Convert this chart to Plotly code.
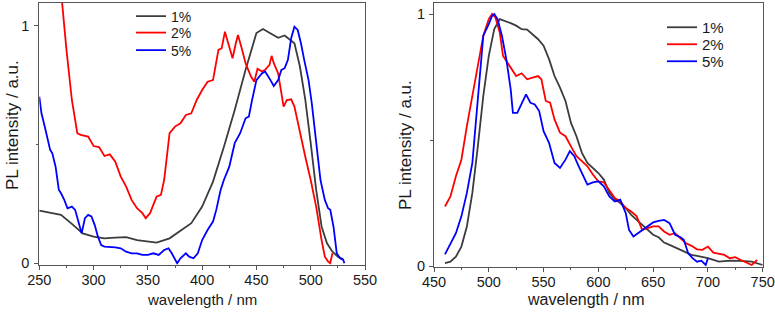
import plotly.graph_objects as go

# ---------------- Left panel data ----------------
L_black_x = [250,260,270,280,290,300,310,320,330,340,350,358,370,380,390,400,410,420,430,440,450,456,460,465,470,476,480,485,490,495,500,505,510,515,520,525,530]
L_black_y = [0.222,0.213,0.204,0.166,0.126,0.112,0.105,0.108,0.110,0.098,0.093,0.087,0.105,0.136,0.169,0.239,0.344,0.490,0.646,0.815,0.970,0.987,0.976,0.965,0.950,0.960,0.944,0.927,0.830,0.690,0.506,0.310,0.155,0.084,0.049,0.028,0.017]

L_red_x = [268,271,275,280,285,288,295,300,305,310,315,320,325,330,335,340,345,348,352,358,362,365,370,375,380,385,390,395,400,405,410,412,415,418,421,424,428,431,433,436,440,445,448,451,455,458,462,464,466,470,472,475,478,482,485,490,495,500,505,510,513,516,518,520]
L_red_y = [1.200,1.098,0.900,0.688,0.548,0.541,0.534,0.494,0.490,0.452,0.459,0.428,0.365,0.323,0.267,0.232,0.211,0.190,0.211,0.281,0.288,0.351,0.548,0.576,0.590,0.625,0.632,0.688,0.730,0.765,0.772,0.829,0.899,0.906,0.976,0.927,0.864,0.927,0.962,0.913,0.843,0.787,0.765,0.820,0.808,0.815,0.836,0.874,0.843,0.800,0.744,0.660,0.688,0.691,0.660,0.548,0.449,0.351,0.239,0.098,0.028,0.007,0.000,0.042]

L_blue_x = [250,252,255,258,260,262,265,268,270,273,276,280,283,286,289,292,295,298,301,304,307,310,315,320,325,330,335,340,345,350,355,360,365,369,372,375,377,380,385,388,392,396,400,405,410,413,417,420,425,430,435,440,443,446,450,455,458,462,466,470,473,476,479,482,485,488,491,494,498,501,505,509,513,516,518,521,524,527,530,531]
L_blue_y = [0.702,0.632,0.576,0.520,0.478,0.463,0.407,0.309,0.295,0.267,0.232,0.239,0.225,0.176,0.126,0.190,0.204,0.197,0.162,0.112,0.077,0.070,0.070,0.067,0.063,0.049,0.042,0.042,0.035,0.035,0.042,0.035,0.056,0.063,0.042,0.014,0.000,0.021,0.042,0.028,0.021,0.042,0.098,0.140,0.176,0.225,0.309,0.351,0.407,0.506,0.548,0.611,0.618,0.688,0.772,0.800,0.808,0.779,0.747,0.772,0.815,0.822,0.857,0.948,0.997,0.983,0.927,0.857,0.772,0.674,0.520,0.351,0.267,0.232,0.225,0.154,0.042,0.021,0.014,0.000]

# ---------------- Right panel data ----------------
R_black_x = [460,465,470,475,480,485,490,495,500,505,510,515,520,525,530,535,540,545,550,555,560,565,570,575,580,585,590,595,600,605,610,615,620,625,630,635,640,645,650,655,660,665,670,675,680,685,690,700,710,720,730,740,750]
R_black_y = [0.011,0.017,0.037,0.077,0.157,0.290,0.475,0.675,0.834,0.940,0.980,0.973,0.964,0.954,0.940,0.938,0.920,0.900,0.874,0.821,0.754,0.708,0.655,0.568,0.515,0.449,0.409,0.389,0.369,0.343,0.290,0.266,0.250,0.230,0.203,0.183,0.163,0.143,0.124,0.114,0.093,0.084,0.074,0.064,0.053,0.044,0.040,0.031,0.017,0.021,0.020,0.017,0.004]

R_red_x = [460,465,470,475,480,485,490,495,500,503,506,510,513,516,520,525,530,535,540,545,548,552,556,560,565,570,575,580,585,590,595,600,605,610,615,620,625,630,635,640,645,650,655,660,665,670,675,680,685,690,695,700,705,710,715,720,725,730,735,740,745]
R_red_y = [0.236,0.276,0.356,0.422,0.555,0.675,0.807,0.914,0.980,1.000,0.987,0.927,0.834,0.814,0.788,0.754,0.765,0.741,0.748,0.754,0.741,0.655,0.648,0.582,0.529,0.515,0.475,0.436,0.416,0.396,0.363,0.336,0.332,0.303,0.270,0.256,0.230,0.216,0.197,0.143,0.150,0.157,0.157,0.137,0.124,0.130,0.110,0.090,0.080,0.066,0.064,0.077,0.053,0.050,0.044,0.031,0.035,0.024,0.015,0.004,0.024]

R_blue_x = [460,465,470,475,480,485,490,495,500,503,505,508,512,516,520,522,526,530,534,538,542,546,550,555,560,565,570,574,578,582,586,590,595,600,605,610,615,620,625,628,632,636,640,645,650,655,660,665,670,675,678,682,686,690,694,698,700]
R_blue_y = [0.046,0.090,0.130,0.197,0.290,0.409,0.661,0.914,0.960,0.993,1.000,0.980,0.914,0.821,0.701,0.608,0.608,0.648,0.681,0.648,0.641,0.615,0.535,0.489,0.409,0.389,0.422,0.456,0.436,0.396,0.356,0.323,0.332,0.336,0.316,0.276,0.256,0.263,0.210,0.143,0.117,0.130,0.143,0.157,0.173,0.179,0.183,0.170,0.124,0.114,0.104,0.050,0.031,0.017,0.021,0.004,0.031]

series_names = ["1%", "2%", "5%"]
colors = ["#3c3c3c", "#ff0000", "#0000ff"]
x_ticks_left = [250, 300, 350, 400, 450, 500, 550]
x_ticks_right = [450, 500, 550, 600, 650, 700, 750]
y_ticks = [0, 1]

W, H = 775, 318
FONT = "Liberation Sans, Arial, sans-serif"


def px_x(p):
    return p / W


def px_y(p):
    return 1 - p / H


fig = go.Figure()
left = [(L_black_x, L_black_y), (L_red_x, L_red_y), (L_blue_x, L_blue_y)]
right = [(R_black_x, R_black_y), (R_red_x, R_red_y), (R_blue_x, R_blue_y)]
legend_ids = ["legend", "legend2", "legend3", "legend4", "legend5", "legend6"]
for i, ((x, y), n, c) in enumerate(zip(left, series_names, colors)):
    fig.add_trace(go.Scatter(x=x, y=y, mode="lines", name=n, line=dict(color=c, width=1.8),
                             xaxis="x", yaxis="y", legend=legend_ids[i], showlegend=True))
for i, ((x, y), n, c) in enumerate(zip(right, series_names, colors)):
    fig.add_trace(go.Scatter(x=x, y=y, mode="lines", name=n, line=dict(color=c, width=1.8),
                             xaxis="x2", yaxis="y2", legend=legend_ids[3 + i], showlegend=True))

axis_common = dict(showline=True, linecolor="#555555", linewidth=1.2, mirror=True,
                   ticks="outside", ticklen=4, tickwidth=1, tickcolor="#555555",
                   showgrid=False, zeroline=False, automargin=False,
                   tickfont=dict(family=FONT, size=14.5, color="#1a1a1a"))
minor_x = dict(dtick=25, ticks="outside", ticklen=2.5, tickcolor="#555555")
minor_y = dict(tickvals=[0.5], ticks="outside", ticklen=2.5, tickcolor="#555555")

# legend anchor positions (pixels): left panel rows, right panel rows
leg_left_x, leg_right_x = 131, 662
leg_left_rows = [17, 33.5, 51]
leg_right_rows = [28, 45, 62]
legend_layout = {}
for i, yc in enumerate(leg_left_rows):
    legend_layout[legend_ids[i]] = dict(x=px_x(leg_left_x), y=px_y(yc - 16.5), xanchor="left", yanchor="top",
                                        bgcolor="rgba(0,0,0,0)", borderwidth=0, visible=True,
                                        font=dict(family=FONT, size=14, color="#1a1a1a"))
for i, yc in enumerate(leg_right_rows):
    legend_layout[legend_ids[3 + i]] = dict(x=px_x(leg_right_x), y=px_y(yc - 17), xanchor="left", yanchor="top",
                                            bgcolor="rgba(0,0,0,0)", borderwidth=0, visible=True,
                                            font=dict(family=FONT, size=15, color="#1a1a1a"))

fig.update_layout(
    width=W, height=H, margin=dict(l=0, r=0, t=0, b=0, pad=0, autoexpand=False),
    showlegend=True,
    paper_bgcolor="white", plot_bgcolor="white",
    xaxis=dict(domain=[px_x(39.3), px_x(365)], range=[250, 550], tickmode="array", tickvals=x_ticks_left,
               minor=dict(tick0=250, **minor_x), ticklabelstandoff=-2, anchor="y", **axis_common),
    yaxis=dict(domain=[px_y(264.7), px_y(2.7)], range=[-0.006, 1.098], tickmode="array", tickvals=y_ticks,
               minor=minor_y, ticklabelstandoff=2, anchor="x", **axis_common),
    xaxis2=dict(domain=[px_x(434), px_x(762.7)], range=[450, 750], tickmode="array", tickvals=x_ticks_right,
                minor=dict(tick0=450, **minor_x), ticklabelstandoff=-2, anchor="y2", **axis_common),
    yaxis2=dict(domain=[px_y(266.5), px_y(2.7)], range=[-0.002, 1.045], tickmode="array", tickvals=y_ticks,
                minor=minor_y, ticklabelstandoff=1, anchor="x2", **axis_common),
    annotations=[
        dict(text="PL intensity / a.u.", x=px_x(12), y=px_y(125), xref="paper", yref="paper",
             textangle=-90, showarrow=False, xanchor="center", yanchor="middle",
             font=dict(family=FONT, size=17, color="#1a1a1a")),
        dict(text="wavelength / nm", x=px_x(202), y=px_y(299), xref="paper", yref="paper",
             showarrow=False, xanchor="center", yanchor="middle",
             font=dict(family=FONT, size=15, color="#1a1a1a")),
        dict(text="PL intensity / a.u.", x=px_x(405), y=px_y(145), xref="paper", yref="paper",
             textangle=-90, showarrow=False, xanchor="center", yanchor="middle",
             font=dict(family=FONT, size=17, color="#1a1a1a")),
        dict(text="wavelength / nm", x=px_x(586), y=px_y(299), xref="paper", yref="paper",
             showarrow=False, xanchor="center", yanchor="middle",
             font=dict(family=FONT, size=16, color="#1a1a1a")),
    ],
    **legend_layout,
)

fig.write_html("out.html", config={"displayModeBar": False},
               post_script="document.body.style.margin='0';document.body.style.overflow='hidden';")
